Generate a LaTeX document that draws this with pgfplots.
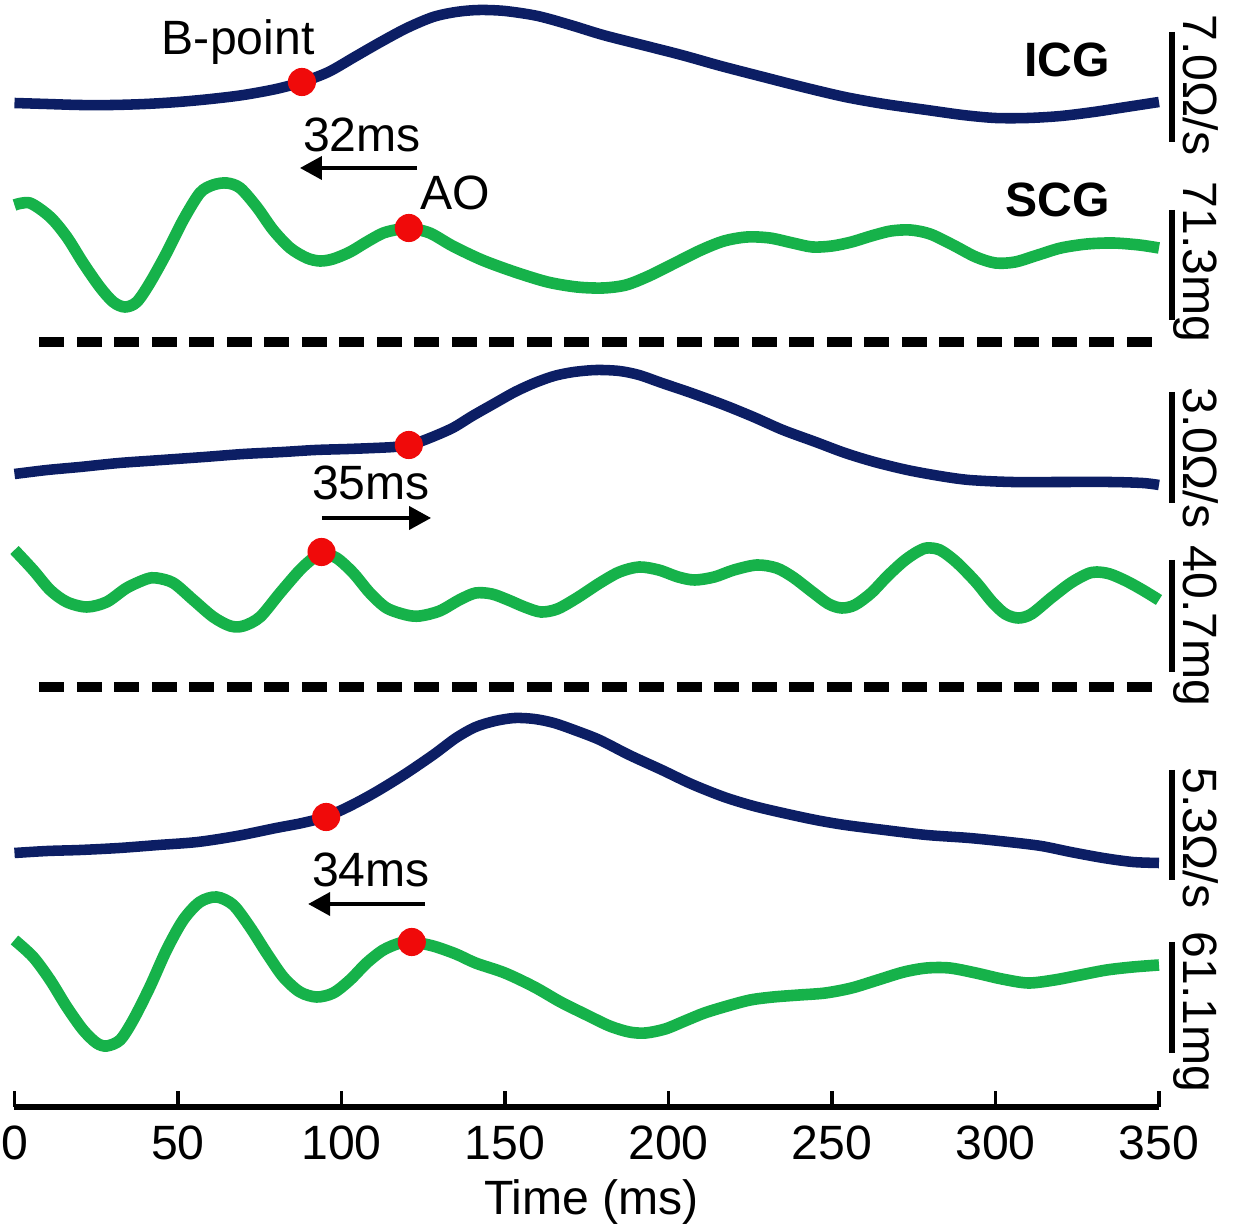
\documentclass[border=0pt]{standalone}
\usepackage{fontspec}
\setmainfont{Liberation Sans}
\usepackage{pgfplots}
\pgfplotsset{compat=1.18}
\usetikzlibrary{arrows.meta}

\definecolor{icg}{RGB}{12,30,100}
\definecolor{scg}{RGB}{22,178,74}
\definecolor{dot}{RGB}{240,10,10}

\begin{document}
\begin{tikzpicture}[font=\fontsize{13.7}{16}\selectfont,
  lab/.style={anchor=base, inner sep=0},
  scl/.style={anchor=base, inner sep=0, rotate=-90}]
\begin{axis}[
  scale only axis,
  width=114.45mm, height=110.7mm,
  xmin=0, xmax=350, ymin=-1107, ymax=0,
  axis y line=none, axis x line*=bottom,
  ytick=\empty,
  x axis line style={line width=1.7pt,-},
  xtick={0,50,...,350},
  tick align=inside, major tick length=1.6mm,
  tick style={line width=1pt,black},
  xticklabel style={anchor=base, yshift=-5.3mm},
  /pgf/number format/assume math mode=true,
  clip=false,
  icgline/.style={icg, line width=3pt, smooth},
  scgline/.style={scg, line width=3.3pt, smooth},
  dots/.style={only marks, mark=*, mark size=3.8pt, mark options={dot, draw=dot}},
  bar/.style={black, line width=1.7pt},
  dline/.style={black, line width=2.85pt, dash pattern=on 2.5mm off 1.25mm},
  arr/.style={black, line width=1.1pt, -{Triangle[length=2.2mm,width=2.3mm]}},
]
\coordinate (bbA) at (axis cs:-4.43,0);
\coordinate (bbB) at (axis cs:375.7,-1232);

% ---- pair 1
\addplot[icgline] coordinates {
 (0,-103) (10,-104) (20,-105) (30,-105) (40,-104) (50,-102) (60,-99) (70,-95)
 (80,-89) (88,-82) (96,-72) (104,-57) (112,-42) (120,-28) (128,-17) (135,-12)
 (142,-10) (150,-11) (160,-16) (170,-25) (180,-35) (192,-45) (204,-55) (216,-66)
 (229,-77) (241,-87) (254,-97) (266,-104) (279,-110) (290,-115) (300,-118)
 (310,-118) (320,-116) (330,-112) (340,-107) (350,-102)};
\addplot[scgline] coordinates {
 (0,-205) (4.7,-203) (10.9,-217) (16,-237) (21,-263) (26.1,-287) (30.2,-302)
 (33.8,-307) (37.4,-302) (41.4,-283) (46.5,-253) (51.6,-220) (56.7,-193)
 (60.7,-185) (64.9,-183) (69,-188) (74.1,-207) (79.1,-230) (84.3,-248)
 (89.4,-258) (93.4,-261) (97.4,-259) (102.6,-252) (107.7,-242) (112.8,-233)
 (117.9,-229) (120.6,-228) (127,-233) (134,-246) (143,-260) (153,-272)
 (163,-282) (172,-287) (180,-288) (187,-285) (194,-276) (202,-263) (210,-250)
 (217,-241) (224,-237) (231,-238) (238,-243) (244,-247) (250,-246) (256,-242)
 (262,-236) (268,-231) (274,-230) (280,-234) (287,-245) (294,-257) (300,-263)
 (306,-262) (313,-255) (320,-248) (328,-244) (336,-243) (344,-245) (350,-248)};
\addplot[dots] coordinates {(87.9,-82) (120.6,-228)};
\addplot[dline] coordinates {(7.6,-342) (350,-342)};
\addplot[arr] coordinates {(123.1,-168) (87.3,-168)};

% ---- pair 2
\addplot[icgline] coordinates {
 (0,-474) (10,-470) (20,-467) (32,-463) (45,-460) (58,-457) (70,-454) (82,-452)
 (92,-450) (102,-449) (110,-448) (116,-447) (121,-445) (127,-438) (134,-428)
 (140,-416) (147,-403) (153,-392) (159,-383) (165,-376) (171,-372) (178,-370)
 (185,-371) (191,-375) (198,-383) (207,-393) (217,-405) (226,-417) (235,-430)
 (245,-442) (254,-453) (263,-462) (273,-470) (283,-476) (292,-480) (305,-482)
 (320,-482) (335,-482) (345,-483) (350,-485)};
\addplot[scgline] coordinates {
 (0,-550) (5.7,-570) (10.9,-590) (16,-602) (22.1,-607) (28.2,-602) (34.3,-588)
 (40.4,-579) (43.5,-578) (48.6,-583) (54.7,-600) (60.8,-617) (66,-626)
 (70,-626) (75.1,-617) (81.2,-593) (87.3,-570) (91.4,-558) (93.9,-553)
 (98.5,-558) (103.6,-573) (108.7,-593) (113.8,-608) (119.9,-615) (124,-616)
 (130,-611) (136,-600) (141,-593) (146,-594) (151,-600) (156,-607) (161,-612)
 (166,-609) (172,-598) (179,-583) (185,-572) (191,-567) (197,-570) (203,-577)
 (208,-580) (214,-577) (220,-570) (227,-565) (233,-568) (238,-577) (244,-592)
 (249,-604) (253,-608) (257,-605) (262,-593) (267,-576) (272,-561) (276,-552)
 (279,-548) (283,-550) (288,-562) (294,-582) (299,-602) (303,-614) (307,-618)
 (311,-614) (317,-598) (323,-583) (328,-574) (331,-572) (335,-574) (340,-581)
 (345,-590) (350,-600)};
\addplot[dots] coordinates {(120.6,-445) (93.9,-552)};
\addplot[dline] coordinates {(7.6,-687) (350,-687)};
\addplot[arr] coordinates {(94.0,-518) (127.4,-518)};

% ---- pair 3
\addplot[icgline] coordinates {
 (0,-853) (10,-851) (20,-850) (32,-848) (44,-845) (56,-842) (68,-836) (80,-828)
 (88,-823) (95,-817) (102,-807) (110,-793) (119,-775) (128,-755) (135,-738)
 (141,-727) (147,-721) (153,-718) (159,-719) (165,-723) (172,-731) (179,-740)
 (188,-755) (198,-770) (207,-784) (217,-797) (226,-806) (235,-813) (245,-820)
 (254,-825) (266,-830) (279,-835) (292,-838) (304,-842) (314,-846) (323,-852)
 (333,-858) (342,-862) (350,-863)};
\addplot[scgline] coordinates {
 (0,-940) (5.7,-957) (10.9,-980) (16,-1007) (21,-1030) (25.1,-1043) (28.2,-1046)
 (32.3,-1040) (36.3,-1020) (41.4,-987) (46.5,-950) (51.6,-920) (56.7,-902)
 (61.8,-897) (66.9,-905) (72,-927) (77.1,-953) (82.2,-977) (87.3,-992)
 (92.4,-997) (97.5,-993) (102.6,-980) (107.7,-963) (112.8,-950) (117.9,-943)
 (121.5,-942) (128,-946) (135,-954) (141,-963) (150,-973) (159,-987)
 (167,-1002) (175,-1015) (182,-1026) (188,-1032) (193,-1033) (199,-1029)
 (205,-1021) (211,-1013) (218,-1006) (225,-1000) (232,-997) (240,-995)
 (248,-993) (256,-988) (264,-980) (272,-972) (279,-968) (286,-968) (294,-973)
 (302,-979) (310,-983) (318,-980) (326,-975) (334,-970) (342,-967) (350,-965)};
\addplot[dots] coordinates {(95.3,-817) (121.5,-942)};
\addplot[arr] coordinates {(125.5,-904) (89.8,-904)};

% ---- scale bars
\addplot[bar] coordinates {(354,-32) (354,-142)};
\addplot[bar] coordinates {(354,-210) (354,-320)};
\addplot[bar] coordinates {(354,-392) (354,-503)};
\addplot[bar] coordinates {(354,-560) (354,-672)};
\addplot[bar] coordinates {(354,-770) (354,-880)};
\addplot[bar] coordinates {(354,-942) (354,-1053)};

% ---- texts
\node[lab] at (axis cs:68.4,-55) {B-point};
\node[lab] at (axis cs:106.3,-152) {32ms};
\node[lab] at (axis cs:134.7,-210) {AO};
\node[lab,font=\fontsize{13.7}{16}\selectfont\bfseries] at (axis cs:321.9,-77) {ICG};
\node[lab,font=\fontsize{13.7}{16}\selectfont\bfseries] at (axis cs:319.1,-217) {SCG};
\node[lab] at (axis cs:109,-500) {35ms};
\node[lab] at (axis cs:109,-887) {34ms};

\node[scl] at (axis cs:357.6,-85) {7.0Ω/s};
\node[scl] at (axis cs:357.6,-262) {71.3mg};
\node[scl] at (axis cs:357.6,-458) {3.0Ω/s};
\node[scl] at (axis cs:357.6,-626) {40.7mg};
\node[scl] at (axis cs:357.6,-838) {5.3Ω/s};
\node[scl] at (axis cs:357.6,-1012) {61.1mg};

\node[lab] at (axis cs:176.5,-1215) {Time (ms)};
\end{axis}
\pgfresetboundingbox
\path[use as bounding box] (bbA) rectangle (bbB);
\end{tikzpicture}
\end{document}
